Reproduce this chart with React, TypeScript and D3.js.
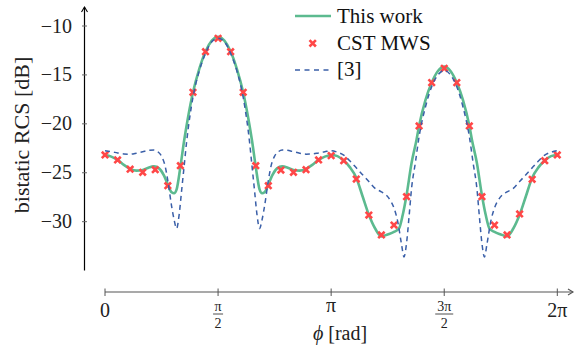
import React from 'react';
import * as d3 from 'd3';

// ---- data (phi in degrees, bistatic RCS in dB) ----
const cstPhi = [0, 10, 20, 30, 40, 50, 60, 70, 80, 90, 100, 110, 120, 130, 140, 150, 160, 170, 180,
  190, 200, 210, 220, 230, 240, 250, 260, 270, 280, 290, 300, 310, 320, 330, 340, 350, 360];
const cstDb = [-23.18, -23.69, -24.64, -24.95, -24.69, -26.32, -24.28, -16.78, -12.63, -11.26,
  -12.63, -16.78, -24.28, -26.32, -24.72, -24.95, -24.69, -23.69, -23.25,
  -23.77, -25.64, -29.32, -31.36, -30.34, -27.45, -20.22, -15.79, -14.32,
  -15.79, -20.22, -27.45, -30.34, -31.36, -29.21, -25.67, -23.77, -23.18];

const workPhi = [0, 5, 10, 15, 20, 25, 30, 35, 39, 43, 47, 50, 53, 55, 57, 60, 63, 66, 70, 75, 80, 85, 90,
  95, 100, 105, 110, 114, 117, 120, 123, 125, 127, 130, 133, 137, 141, 145, 150, 155, 160, 165, 170, 175, 180,
  185, 190, 195, 200, 205, 210, 215, 220, 225, 230, 234, 237, 240, 244, 248, 250, 255, 260, 265, 270,
  275, 280, 285, 290, 292, 296, 300, 303, 306, 310, 315, 320, 325, 330, 335, 340, 345, 350, 355, 360];
const workDb = [-23.18, -23.35, -23.69, -24.2, -24.6, -24.78, -24.72, -24.45, -24.35, -24.55, -25.3, -26.2, -27.0, -27.1, -26.7, -24.4, -21.7, -19.4, -16.8, -14.4, -12.6, -11.5, -11.1,
  -11.5, -12.6, -14.4, -16.8, -19.4, -21.7, -24.4, -26.7, -27.1, -27.0, -26.2, -25.3, -24.55, -24.35, -24.45, -24.72, -24.78, -24.6, -24.2, -23.69, -23.35, -23.18,
  -23.3, -23.75, -24.45, -25.5, -27.4, -29.3, -30.7, -31.5, -31.3, -31.05, -30.7, -29.3, -27.3, -24.0, -21.6, -20.2, -17.6, -15.8, -14.6, -14.15,
  -14.6, -15.8, -17.6, -20.2, -21.6, -24.0, -27.3, -29.3, -30.7, -31.05, -31.3, -31.5, -30.7, -29.3, -27.4, -25.5, -24.45, -23.75, -23.3, -23.18];

const refPhi = [0, 5, 10, 15, 20, 25, 30, 35, 39, 42, 45, 48, 50, 53, 55, 57, 59, 61, 63, 65, 70, 75, 80, 85, 90,
  95, 100, 105, 110, 115, 117, 119, 121, 123, 125, 127, 130, 132, 135, 138, 141, 145, 150, 155, 160, 165, 170, 175, 180,
  185, 190, 195, 200, 205, 210, 215, 220, 224, 227, 230, 233, 236, 238, 240, 242, 244, 247, 250, 255, 260, 265, 270,
  275, 280, 285, 290, 293, 296, 298, 300, 302, 304, 307, 310, 313, 316, 320, 325, 330, 335, 340, 345, 350, 355, 360];
const refDb = [-22.75, -22.85, -22.97, -23.08, -23.1, -23.0, -22.85, -22.7, -22.67, -22.85, -23.3, -24.4, -25.8, -28.4, -29.8, -30.7, -29.3, -26.8, -24.3, -21.8, -17.3, -14.6, -12.8, -11.6, -11.25,
  -11.6, -12.8, -14.6, -17.3, -21.8, -24.3, -26.8, -29.3, -30.7, -29.8, -28.4, -25.8, -24.4, -23.3, -22.85, -22.67, -22.7, -22.85, -23.0, -23.1, -23.08, -22.97, -22.85, -22.75,
  -22.9, -23.2, -23.8, -24.5, -25.2, -25.9, -26.6, -26.95, -27.3, -27.8, -28.6, -30.0, -32.3, -33.6, -32.2, -29.5, -26.6, -24.0, -21.3, -18.3, -16.2, -15.0, -14.55,
  -15.0, -16.2, -18.3, -21.3, -24.0, -26.6, -29.5, -32.2, -33.6, -32.3, -30.0, -28.6, -27.8, -27.3, -26.95, -26.6, -25.9, -25.2, -24.5, -23.8, -23.2, -22.9, -22.75];

const yTicks = [-10, -15, -20, -25, -30];
const xTickPhi = [0, 90, 180, 270, 360];
const xTickNum = ['0', 'π', 'π', '3π', '2π'];
const xTickDen = ['', '2', '', '2', ''];
const legendLabels = ['This work', 'CST MWS', '[3]'];

const GREEN = '#5cba8f';
const RED = '#ff4747';
const BLUE = '#3a5fa8';
const FONT = '"Liberation Serif", "Times New Roman", serif';

export default function App() {
  const W = 576, H = 352;
  const x = d3.scaleLinear().domain([0, 360]).range([105, 557.3]);
  const y = d3.scaleLinear().domain([-35, -10]).range([270.6, 26]);
  const yAxisX = 84.5;
  const xAxisY = 292;

  const line = d3.line<[number, number]>()
    .x(d => x(d[0]))
    .y(d => y(d[1]))
    .curve(d3.curveMonotoneX);

  const workPts = workPhi.map((p, i) => [p, workDb[i]] as [number, number]);
  const refPts = refPhi.map((p, i) => [p, refDb[i]] as [number, number]);
  const cross = 'M-3.2,-3.2L3.2,3.2M-3.2,3.2L3.2,-3.2';

  const yTop = y(-8.06);
  const xEnd = 573;

  return (
    <svg width={W} height={H} style={{ position: 'absolute', left: 0, top: 0, background: '#fff' }}
      fontFamily={FONT}>
      {/* y axis */}
      <line x1={yAxisX} x2={yAxisX} y1={y(-35)} y2={yTop} stroke="#000" strokeWidth={1.2} />
      <path d={`M${yAxisX - 3},${yTop + 5}L${yAxisX},${yTop}L${yAxisX + 3},${yTop + 5}`} fill="none" stroke="#000" strokeWidth={1.1} />
      {yTicks.map(t => (
        <g key={t}>
          <line x1={yAxisX - 2.5} x2={yAxisX + 2.5} y1={y(t)} y2={y(t)} stroke="#666" strokeWidth={1} />
          <text x={72} y={y(t) + 6.5} textAnchor="end" fontSize={20} fill="#222">{'−' + Math.abs(t)}</text>
        </g>
      ))}
      <text transform={`translate(29,135) rotate(-90)`} textAnchor="middle" fontSize={22} fill="#222">bistatic RCS [dB]</text>

      {/* x axis */}
      <line x1={x(0)} x2={xEnd} y1={xAxisY} y2={xAxisY} stroke="#555" strokeWidth={1.2} />
      <path d={`M${xEnd - 5},${xAxisY - 3}L${xEnd},${xAxisY}L${xEnd - 5},${xAxisY + 3}`} fill="none" stroke="#555" strokeWidth={1.1} />
      {xTickPhi.map((p, i) => {
        const cx = x(p);
        const frac = xTickDen[i] !== '';
        return (
          <g key={p}>
            <line x1={cx} x2={cx} y1={xAxisY - 3.5} y2={xAxisY + 4} stroke="#555" strokeWidth={1} />
            {frac ? (
              <g>
                <text x={cx} y={310.5} textAnchor="middle" fontSize={14} fill="#222">{xTickNum[i]}</text>
                <line x1={cx - (xTickNum[i].length > 1 ? 9 : 5)} x2={cx + (xTickNum[i].length > 1 ? 9 : 5)} y1={314} y2={314} stroke="#222" strokeWidth={0.8} />
                <text x={cx} y={328} textAnchor="middle" fontSize={14} fill="#222">{xTickDen[i]}</text>
              </g>
            ) : (
              <text x={cx} y={xTickNum[i] === 'π' ? 312 : 316.5} textAnchor="middle" fontSize={20} fill="#222">{xTickNum[i]}</text>
            )}
          </g>
        );
      })}
      <text x={340} y={340} textAnchor="middle" fontSize={20} fill="#222">
        <tspan fontStyle="italic">ϕ</tspan> [rad]
      </text>

      {/* series */}
      <path d={line(workPts) || ''} fill="none" stroke={GREEN} strokeWidth={2.6} />
      {cstPhi.map((p, i) => (
        <path key={p} d={cross} transform={`translate(${x(p)},${y(cstDb[i])})`} stroke={RED} strokeWidth={2.6} fill="none" />
      ))}
      <path d={line(refPts) || ''} fill="none" stroke={BLUE} strokeWidth={1.5} strokeDasharray="5,4" />

      {/* legend */}
      <g>
        <line x1={295} x2={331} y1={16} y2={16} stroke={GREEN} strokeWidth={2.6} />
        <text x={337} y={23} fontSize={21} fill="#111">{legendLabels[0]}</text>
        <path d={cross} transform="translate(312.7,43.3)" stroke={RED} strokeWidth={2.6} fill="none" />
        <text x={337} y={49.5} fontSize={21} fill="#111">{legendLabels[1]}</text>
        <line x1={295} x2={331} y1={70} y2={70} stroke={BLUE} strokeWidth={1.5} strokeDasharray="5,4.5" />
        <text x={337} y={75.5} fontSize={21} fill="#111">{legendLabels[2]}</text>
      </g>
    </svg>
  );
}
